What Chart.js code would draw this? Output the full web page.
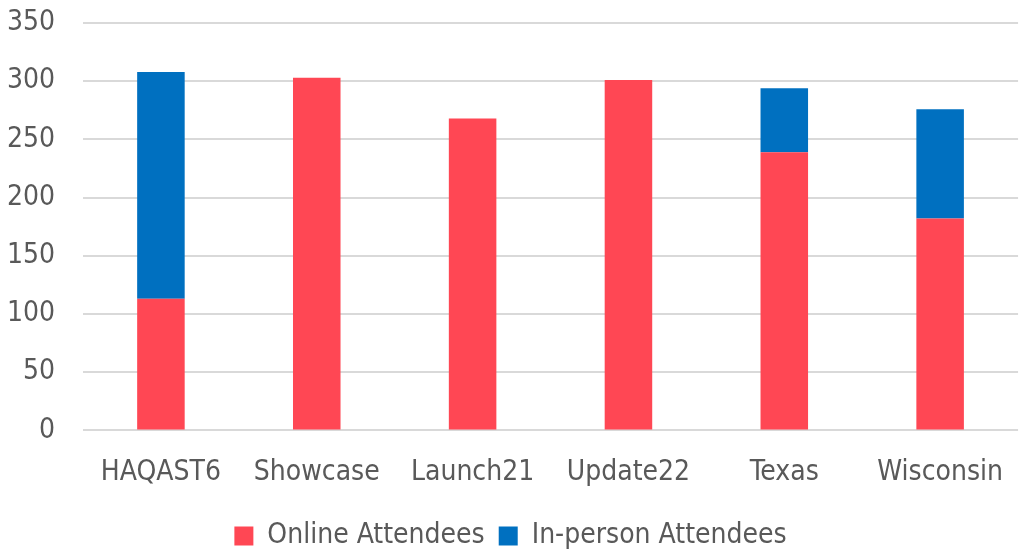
<!DOCTYPE html>
<html><head><meta charset="utf-8">
<script src="https://cdn.jsdelivr.net/npm/chart.js@4"></script>
<style>html,body{margin:0;padding:0;background:#fff;overflow:hidden;}#wrap{width:1021px;height:560px;}</style>
</head><body><div id="wrap"><canvas id="c"></canvas></div>
<script>
const categories = ["HAQAST6","Showcase","Launch21","Update22","Texas","Wisconsin"];
const onlineAttendees = [113,303,268,301,239,182];
const inPersonAttendees = [195,0,0,0,55,94];
const yTicks = [0,50,100,150,200,250,300,350];

const FONT = "'DejaVu Sans Condensed', Lato, sans-serif";
const chart = new Chart(document.getElementById('c'), {
  type: 'bar',
  data: {
    labels: categories,
    datasets: [
      {label:'Online Attendees', data: onlineAttendees, backgroundColor:'#FF4754', barPercentage:0.305, categoryPercentage:1},
      {label:'In-person Attendees', data: inPersonAttendees, backgroundColor:'#0070C0', barPercentage:0.305, categoryPercentage:1}
    ]
  },
  options: {
    responsive:true, maintainAspectRatio:false, animation:false,
    layout:{padding:{top:0,right:0,left:0,bottom:0}},
    plugins:{
      legend:{position:'bottom', labels:{font:{family:FONT,size:28}, color:'#595959', boxWidth:19, boxHeight:19, padding:14}},
      tooltip:{enabled:false}
    },
    scales:{
      x:{stacked:true, grid:{display:false}, border:{display:false},
         ticks:{font:{family:FONT,size:28}, color:'#595959', padding:18}},
      y:{stacked:true, min:0, max:350, afterBuildTicks: ax => { ax.ticks = yTicks.map(v=>({value:v})); },
         afterFit: s => { s.width = 83; s.paddingTop = 23; },
         grid:{color:'#D9D9D9', lineWidth:2, drawTicks:false}, border:{display:false},
         ticks:{font:{family:FONT,size:28}, color:'#595959', padding:28}}
    }
  }
});
</script></body></html>
